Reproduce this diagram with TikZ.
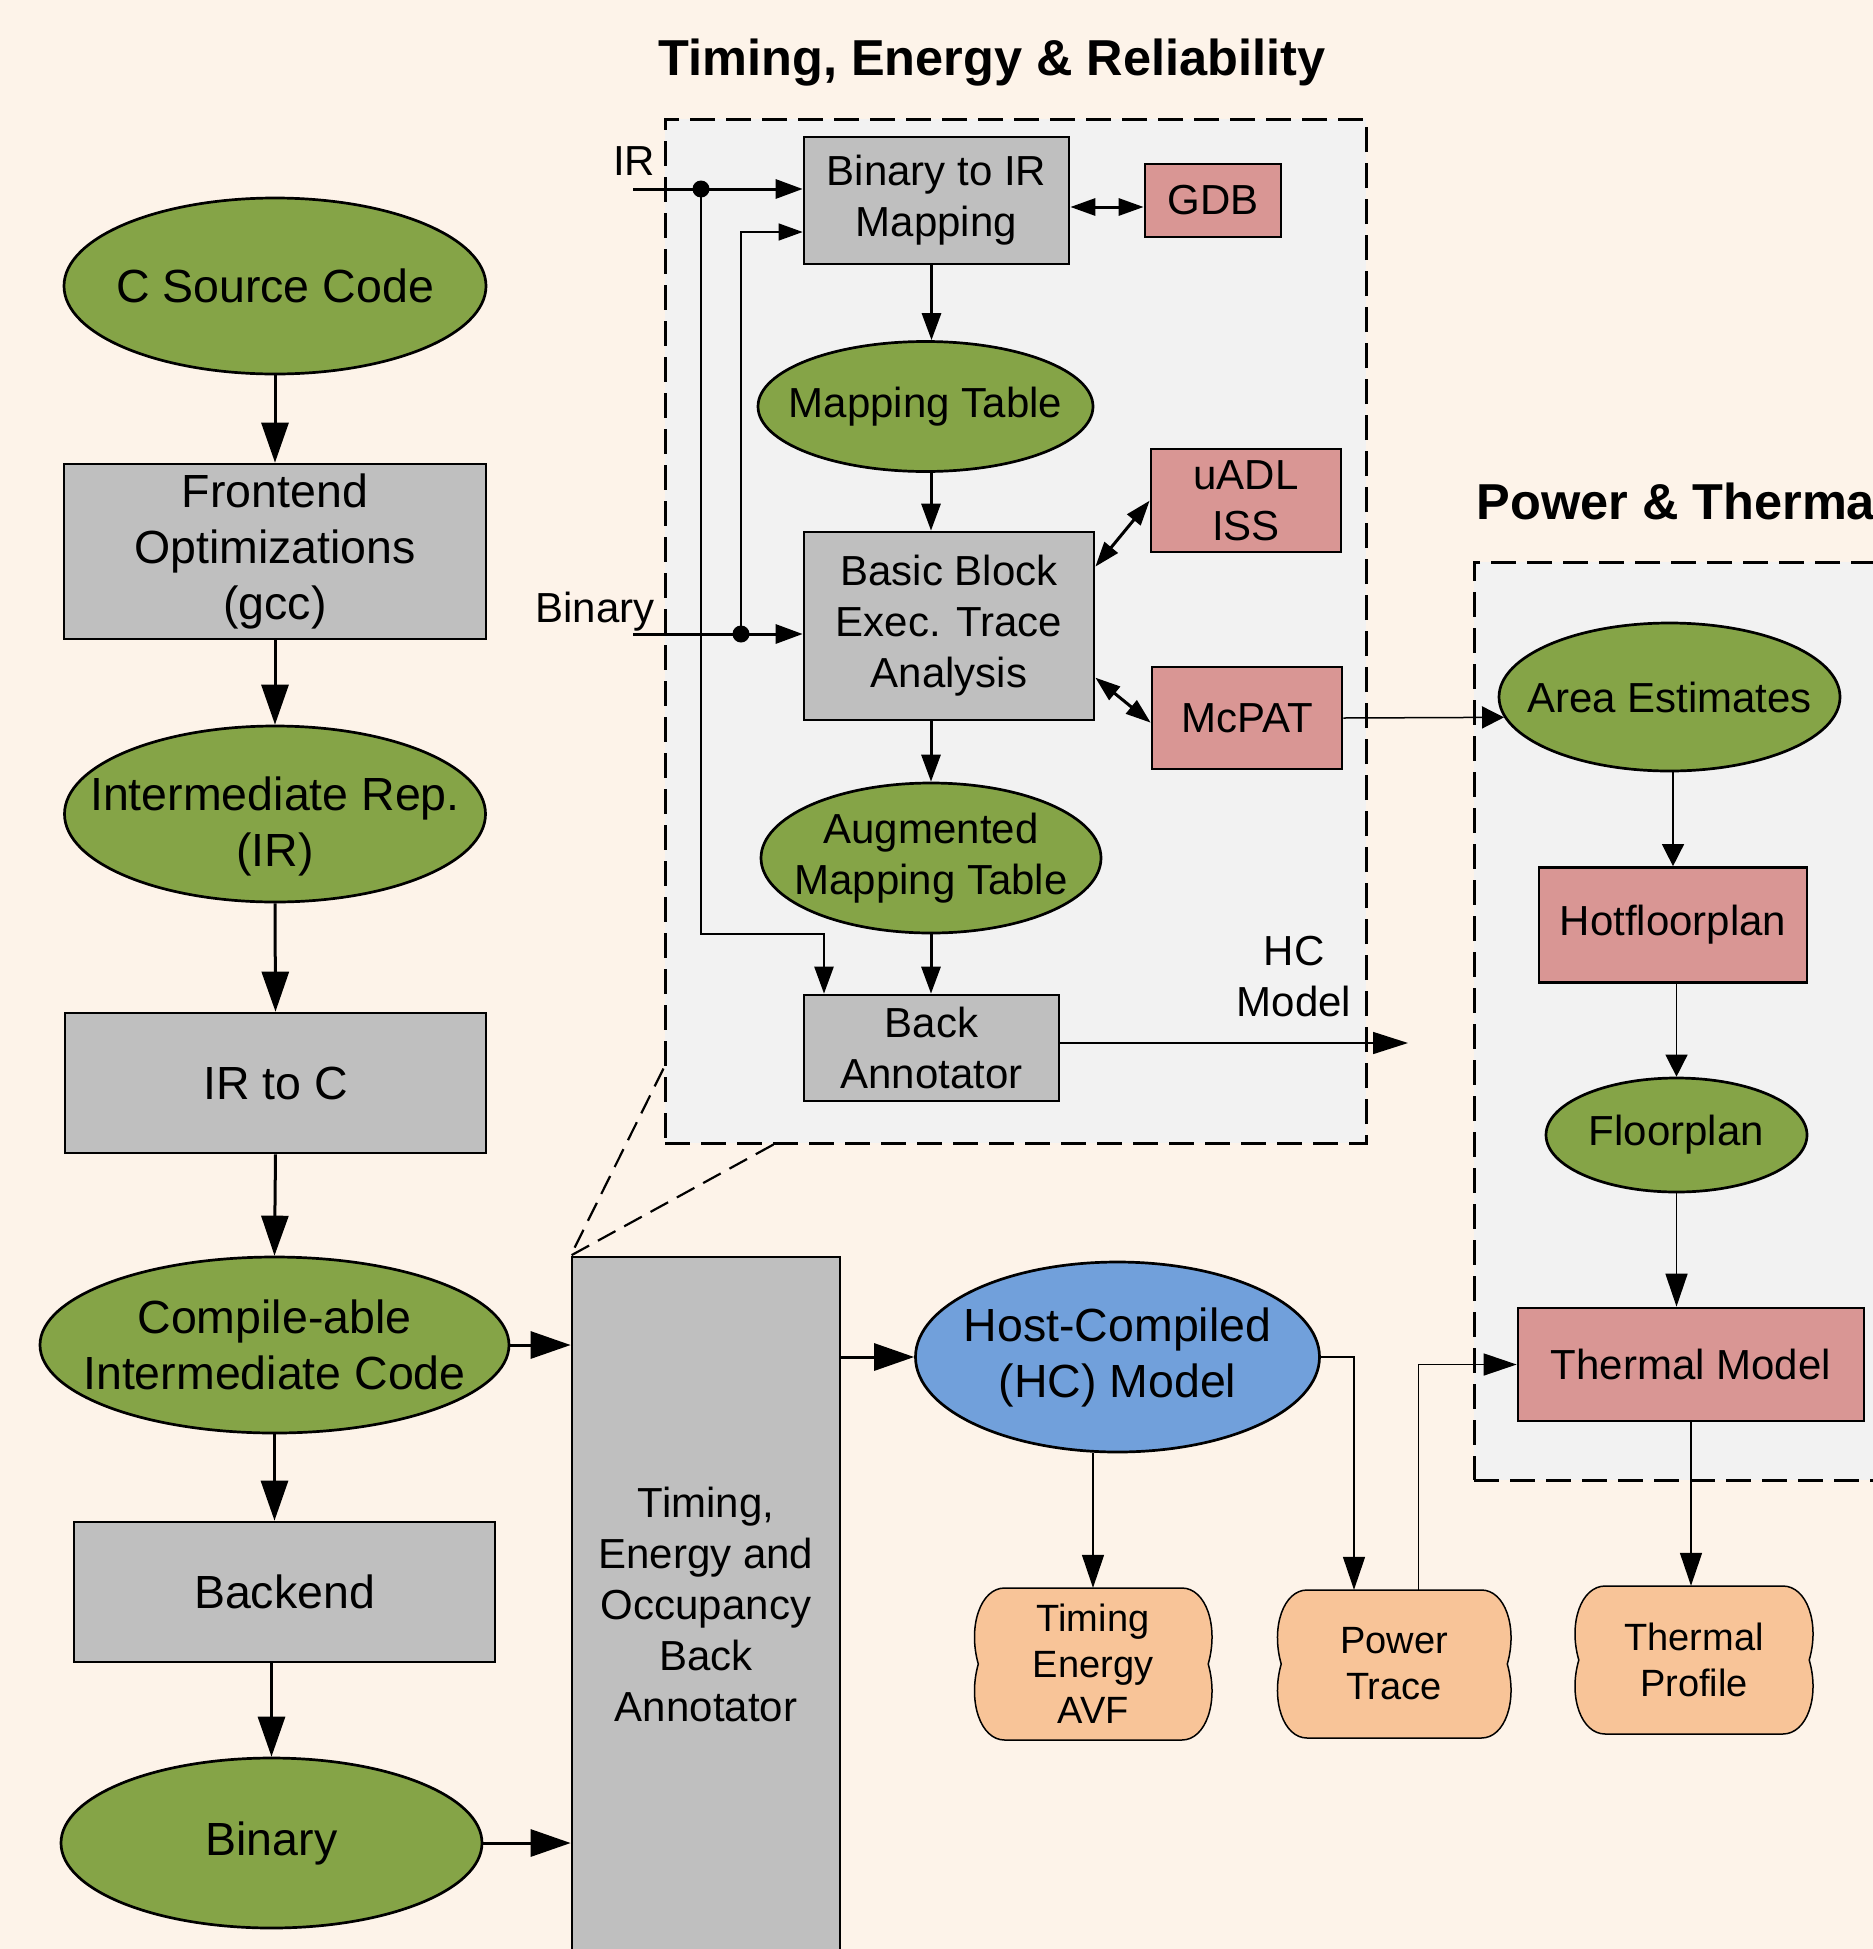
\documentclass[tikz,border=0pt]{standalone}
\usepackage{fontspec}
\setmainfont{Liberation Sans}
\usetikzlibrary{arrows.meta,shapes.geometric,calc}
\definecolor{bgc}{HTML}{FDF3E9}
\definecolor{panelc}{HTML}{F2F2F2}
\definecolor{greenc}{HTML}{85A447}
\definecolor{grayc}{HTML}{BFBFBF}
\definecolor{redc}{HTML}{D99694}
\definecolor{bluec}{HTML}{71A0DB}
\definecolor{orangec}{HTML}{F8C498}
\newcommand\wavyshape[4]{%
  \pgfmathsetmacro\wvx{#1}\pgfmathsetmacro\wvy{#2}%
  \pgfmathsetmacro\wvw{#3-#1}\pgfmathsetmacro\wvh{#4-#2}%
  \filldraw[wavyst] ({\wvx+0.13*\wvw},\wvy) -- ({\wvx+0.87*\wvw},\wvy)
   .. controls ({\wvx+0.97*\wvw},\wvy) and ({\wvx+1.025*\wvw},{\wvy+0.25*\wvh}) .. ({\wvx+0.98*\wvw},{\wvy+0.5*\wvh})
   .. controls ({\wvx+1.025*\wvw},{\wvy+0.75*\wvh}) and ({\wvx+0.97*\wvw},{\wvy+\wvh}) .. ({\wvx+0.87*\wvw},{\wvy+\wvh})
   -- ({\wvx+0.13*\wvw},{\wvy+\wvh})
   .. controls ({\wvx+0.03*\wvw},{\wvy+\wvh}) and ({\wvx-0.025*\wvw},{\wvy+0.75*\wvh}) .. ({\wvx+0.02*\wvw},{\wvy+0.5*\wvh})
   .. controls ({\wvx-0.025*\wvw},{\wvy+0.25*\wvh}) and ({\wvx+0.03*\wvw},\wvy) .. cycle;}
\begin{document}
\begin{tikzpicture}[x=1pt,y=-1pt,
  fL/.style={font=\fontsize{46.5}{56}\selectfont},
  fM/.style={font=\fontsize{42}{51}\selectfont},
  fS/.style={font=\fontsize{38}{46}\selectfont},
  ftitle/.style={font=\fontsize{50.5}{60}\selectfont\bfseries},
  box/.style={draw, line width=2.7pt, fill=grayc, inner sep=0pt, align=center},
  rbox/.style={box, fill=redc},
  gell/.style={ellipse, draw, line width=2.7pt, fill=greenc, inner sep=-150pt, align=center},
  panel/.style={draw, fill=panelc, line width=3pt, dash pattern=on 25pt off 11pt, inner sep=0pt},
  zoomln/.style={line width=2.2pt, dash pattern=on 20pt off 10pt},
  wavyst/.style={fill=orangec, draw, line width=1.5pt},
  cloudtext/.style={fS, align=center, inner sep=0pt},
  bigarr/.style={line width=3pt, -{Triangle[length=40pt,width=27pt]}},
  midarr/.style={line width=3pt, -{Triangle[length=27pt,width=19pt]}},
  thinarr/.style={line width=1.5pt, -{Triangle[length=33pt,width=22pt]}},
  smallarr/.style={line width=1.5pt, -{Triangle[length=22pt,width=22pt]}},
  dblarr/.style={line width=3pt, {Triangle[length=25pt,width=17pt]}-{Triangle[length=25pt,width=17pt]}},
  dotnode/.style={circle, fill=black, inner sep=0pt, minimum size=17pt}
]
\fill[bgc] (0,0) rectangle (1873,1949);
\useasboundingbox (0,0) rectangle (1873,1949);

% panels
\node[panel, minimum width=701pt, minimum height=1024pt] (terbox) at (1015.5,631) {};
\node[panel, minimum width=426pt, minimum height=918pt] (ptbox) at (1687,1021) {};
\node[ftitle, anchor=base] (t1) at (992,75) {Timing, Energy \& Reliability};
\node[ftitle, anchor=base west] (t2) at (1473,519) {Power \& Therma};

% left column
\node[gell, fL, minimum width=422pt, minimum height=176pt] (csrc) at (275,286) {C Source Code};
\node[box, fL, minimum width=422pt, minimum height=175pt] (front) at (275,551.5) {Frontend\\Optimizations\\(gcc)};
\node[gell, fL, minimum width=421pt, minimum height=176pt] (irell) at (275,814) {\rule{0pt}{58pt}Intermediate Rep.\\(IR)};
\node[box, fL, minimum width=421pt, minimum height=140pt] (irc) at (275.5,1083) {IR to C};
\node[gell, fL, minimum width=469pt, minimum height=176pt] (comp) at (274.5,1345) {Compile-able\\Intermediate Code};
\node[box, fL, minimum width=421pt, minimum height=140pt] (backend) at (284.5,1592) {Backend};
\node[gell, fL, minimum width=421pt, minimum height=170pt] (binary) at (271.5,1843) {Binary};

\draw[bigarr] (csrc.south) -- (front.north);
\draw[bigarr] (front.south) -- (irell.north);
\draw[bigarr] (irell.south) -- (irc.north);
\draw[bigarr] (irc.south) -- (comp.north);
\draw[bigarr] (comp.south) -- (comp.south |- backend.north);
\draw[bigarr] (binary.north |- backend.south) -- (binary.north);

% big annotator box
\node[box, fM, minimum width=268pt, minimum height=695pt] (tbig) at (706,1604.5) {Timing,\\Energy and\\Occupancy\\Back\\Annotator};
\draw[zoomln] ([yshift=76pt]terbox.south west) -- (tbig.north west) -- ([xshift=110pt]terbox.south west);
\draw[bigarr] (comp.east) -- (comp.east -| tbig.west);
\draw[bigarr] (binary.east) -- (binary.east -| tbig.west);

% HC model
\node[ellipse, draw, line width=2.7pt, fill=bluec, inner sep=-150pt, align=center, fL, minimum width=404pt, minimum height=190pt] (hc) at (1117.5,1357) {Host-Compiled\\(HC) Model};
\draw[bigarr] (tbig.east |- hc.west) -- (hc.west);

% outputs
\wavyshape{973.5}{1588}{1213}{1740}
\node[cloudtext, minimum width=240pt, minimum height=152pt] (tea) at (1093,1664) {Timing\\Energy\\AVF};
\wavyshape{1276.5}{1590}{1512}{1738}
\node[cloudtext, minimum width=236pt, minimum height=148pt] (ptr) at (1394,1664) {Power\\Trace};
\wavyshape{1574}{1586}{1814}{1734}
\node[cloudtext, minimum width=240pt, minimum height=148pt] (tp) at (1694,1660) {Thermal\\Profile};

% timing/energy panel contents
\node[box, fM, minimum width=265pt, minimum height=127pt] (b2ir) at (936.5,200.5) {Binary to IR\\Mapping};
\node[rbox, fM, minimum width=136pt, minimum height=73pt] (gdb) at (1213,200.5) {GDB};
\node[gell, fM, minimum width=335pt, minimum height=130pt] (mt) at (925.5,406.5) {Mapping Table};
\node[rbox, fM, minimum width=190pt, minimum height=103pt] (uadl) at (1246,500.5) {uADL\\ISS};
\node[box, fM, minimum width=290pt, minimum height=188pt] (bb) at (949,626) {Basic Block\\Exec. Trace\\Analysis};
\node[rbox, fM, minimum width=190pt, minimum height=102pt] (mcpat) at (1247,718) {McPAT};
\node[gell, fM, minimum width=340pt, minimum height=150pt] (aug) at (931,858) {Augmented\\Mapping Table};
\node[box, fM, minimum width=255pt, minimum height=106pt] (back) at (931.5,1048) {Back\\Annotator};

\draw[midarr] ([xshift=-5pt]b2ir.south) -- ([xshift=-5pt]b2ir.south |- mt.north);
\draw[midarr] ([xshift=5.5pt]mt.south) -- ([xshift=5.5pt]mt.south |- bb.north);
\draw[midarr] (aug.north |- bb.south) -- (aug.north);
\draw[midarr] (aug.south) -- (aug.south |- back.north);
\draw[dblarr] ([yshift=-6.5pt]b2ir.east) -- ([yshift=-6.5pt]b2ir.east -| gdb.west);
\draw[dblarr] ([yshift=-36pt]bb.north east) -- ([yshift=-53pt]uadl.north west);
\draw[dblarr] ([yshift=-147pt]bb.north east) -- ([yshift=-57pt]mcpat.north west);

% inputs
\node[fM, anchor=base] (irlbl) at (634,175) {IR};
\node[fM, anchor=base] (binlbl) at (595,622) {Binary};
\coordinate (irin) at (633,189);
\coordinate (binin) at (633,634);
\coordinate (irturn) at (824,934);
\node[dotnode] (irdot) at (701,189) {};
\node[dotnode] (bindot) at (741,634) {};
\draw[midarr] (irin) -- (irin -| b2ir.west);
\draw[midarr] (binin) -- (binin -| bb.west);
\draw[line width=2.5pt, -{Triangle[length=27pt,width=19pt]}] (irdot.center) |- (irturn) -- (irturn |- back.north);
\draw[line width=1.3pt, -{Triangle[length=24pt,width=17pt]}] (bindot.center) |- ([yshift=-31.5pt]b2ir.west);

% HC model output
\node[fM, align=center] (hclbl) at (1294,977) {HC\\Model};
\coordinate (hcout) at (1408,1043);
\draw[line width=1.5pt, -{Triangle[length=35pt,width=22pt]}] ([yshift=5pt]back.east) -- (hcout);

% power & thermal contents
\node[gell, fM, minimum width=341pt, minimum height=148pt] (area) at (1669.5,697) {Area Estimates};
\node[rbox, fM, minimum width=268pt, minimum height=115pt] (hot) at (1673,925) {Hotfloorplan};
\node[gell, fM, minimum width=261pt, minimum height=114pt] (floor) at (1676.5,1135) {Floorplan};
\node[rbox, fM, minimum width=346pt, minimum height=113pt] (tm) at (1691,1364.5) {Thermal Model};

\draw[smallarr] (mcpat.east) -- (area.187);
\draw[smallarr] (hot.north |- area.south) -- (hot.north);
\draw[smallarr] (floor.north |- hot.south) -- (floor.north);
\draw[thinarr] (floor.south) -- (floor.south |- tm.north);

% output connectors
\draw[thinarr] (hc.south -| tea.north) -- (tea.north);
\draw[thinarr] (hc.east) -| ([xshift=-40pt]ptr.north);
\draw[thinarr] ([xshift=24.5pt]ptr.north) |- (tm.west);
\draw[thinarr] (tm.south) -- (tm.south |- tp.north);
\end{tikzpicture}
\end{document}
